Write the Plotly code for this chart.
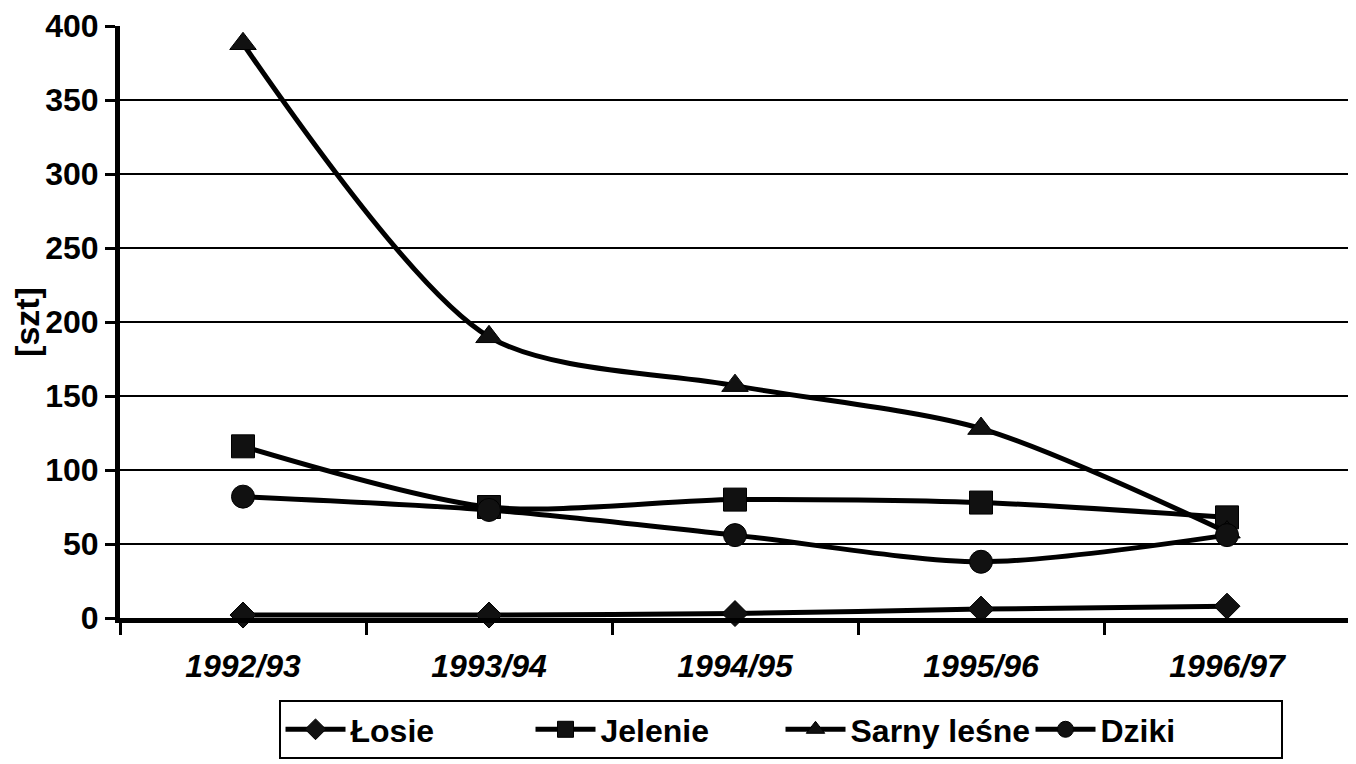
import plotly.graph_objects as go

seasons = ["1992/93", "1993/94", "1994/95", "1995/96", "1996/97"]
losie = [2, 2, 3, 6, 8]
jelenie = [116, 75, 80, 78, 68]
sarny = [388, 190, 157, 128, 58]
dziki = [82, 73, 56, 38, 56]

series = [
    ("Łosie", losie, "diamond", 20),
    ("Jelenie", jelenie, "square", 23),
    ("Sarny leśne", sarny, "triangle-up", 23),
    ("Dziki", dziki, "circle", 23),
]

fig = go.Figure()
for name, vals, sym, sz in series:
    fig.add_trace(go.Scatter(
        x=seasons, y=vals, name=name, mode="lines+markers",
        line=dict(color="black", width=5, shape="spline", smoothing=0.8),
        marker=dict(symbol=sym, size=sz, color="#111111",
                    line=dict(color="black", width=1)),
        cliponaxis=False,
    ))

font_family = "Liberation Sans, Arial, sans-serif"
fig.update_layout(
    width=1348, height=756,
    margin=dict(l=112, r=6, t=18, b=146, autoexpand=False),
    paper_bgcolor="white", plot_bgcolor="white",
    font=dict(family=font_family, color="black"),
    showlegend=True,
    legend=dict(
        orientation="h", x=0.537, xanchor="center", y=-0.1385, yanchor="top",
        bordercolor="black", borderwidth=2, bgcolor="white",
        font=dict(size=32, family=font_family, color="black", weight="bold"),
        itemwidth=60, entrywidth=175, tracegroupgap=0,
    ),
    xaxis=dict(
        type="category", range=[-0.5, 4.5], autorange=False,
        showgrid=False, showline=True, linecolor="black",
        linewidth=5, ticks="outside", tickson="boundaries", ticklen=12,
        tickwidth=3, tickcolor="black",
        tickfont=dict(size=32, family=font_family, weight="bold", style="italic"),
        ticklabelstandoff=16,
    ),
    yaxis=dict(
        range=[0, 400], dtick=50, showgrid=True, gridcolor="black", gridwidth=1.5,
        showline=True, linecolor="black", linewidth=5, ticks="outside",
        ticklen=10, tickwidth=3, tickcolor="black",
        tickfont=dict(size=32, family=font_family, weight="bold"),
        zeroline=False,
        title=dict(text="[szt]", font=dict(size=34, family=font_family, weight="bold"),
                   standoff=8),
    ),
)

fig.write_html("out.html")
